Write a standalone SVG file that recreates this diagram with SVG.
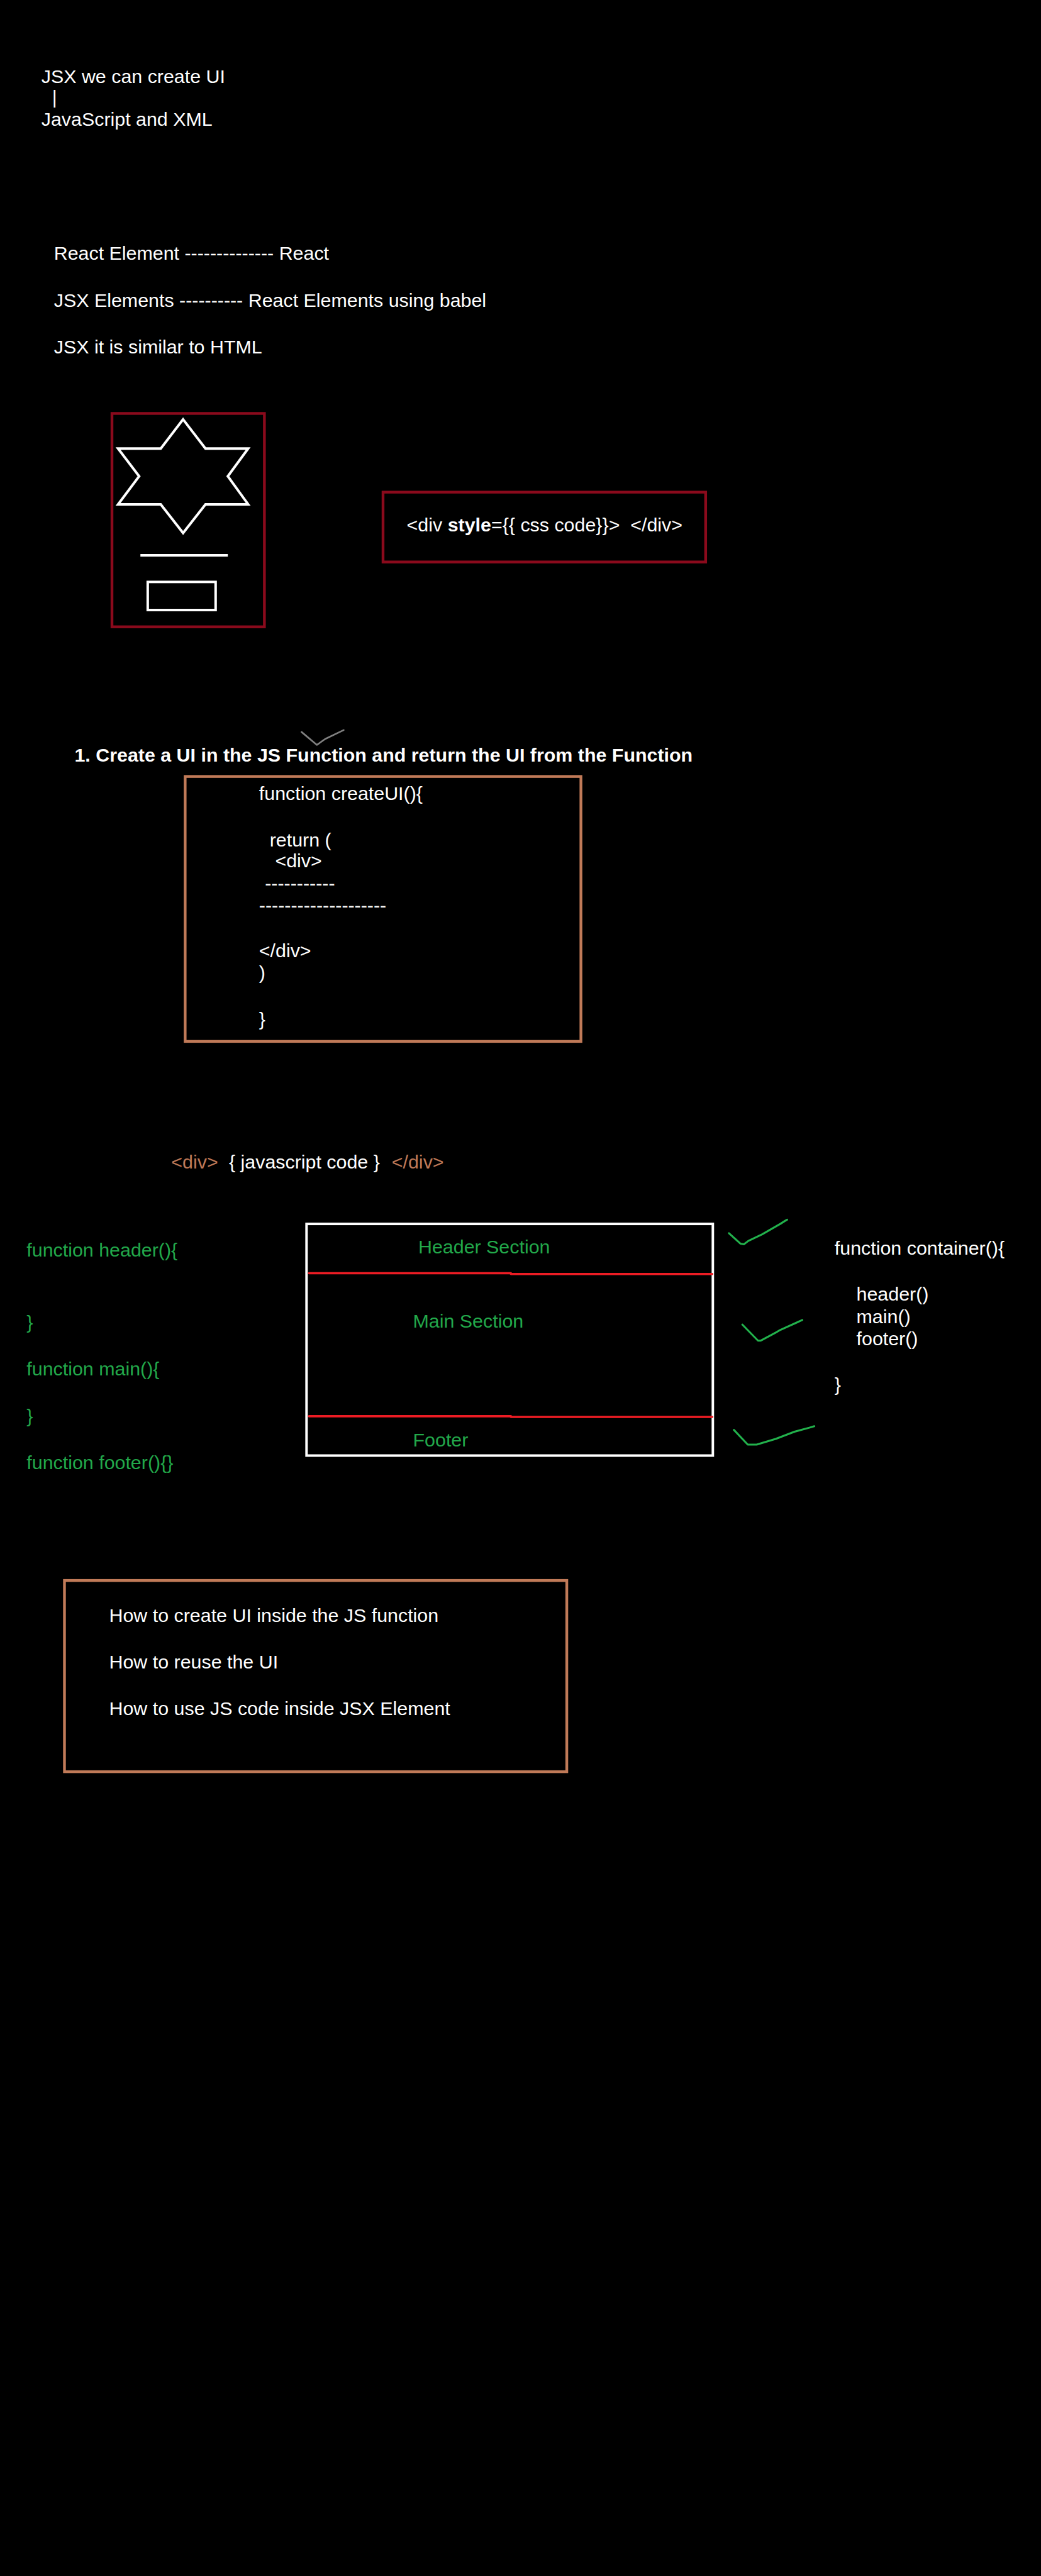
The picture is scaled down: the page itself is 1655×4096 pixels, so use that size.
<svg xmlns="http://www.w3.org/2000/svg" width="1655" height="4096" viewBox="0 0 1655 4096">
<style>
.t{font-family:"Liberation Sans",Arial,Helvetica,sans-serif;font-size:34.5px;fill:#ffffff;white-space:pre}
.b{font-weight:bold}
.g{fill:#22A84A}
.o{fill:#C07A58}
.dr{fill:none;stroke:#8A0A1C;stroke-width:5}
.or{fill:none;stroke:#C07A58;stroke-width:5}
.wh{fill:none;stroke:#ffffff;stroke-width:4.5}
.rd{fill:none;stroke:#ED1C24;stroke-width:4;stroke-linecap:round}
.ck{fill:none;stroke:#22B14C;stroke-width:3.5;stroke-linecap:round;stroke-linejoin:round}
</style>
<rect x="0" y="0" width="1655" height="4096" fill="#000000"/>
<g transform="scale(0.88126)">
  <g id="intro">
    <text class="t" x="74.6" y="150">JSX we can create UI</text>
    <text class="t" x="93.8" y="187">|</text>
    <text class="t" x="74.6" y="226.7">JavaScript and XML</text>
  </g>
  <g id="notes">
    <text class="t" x="97.3" y="469">React Element -------------- React</text>
    <text class="t" x="97.3" y="553.3">JSX Elements ---------- React Elements using babel</text>
    <text class="t" x="97.3" y="637.3">JSX it is similar to HTML</text>
  </g>
  <g id="ui-card">
    <rect class="dr" x="202" y="746" width="275" height="385"/>
    <path class="wh" d="M330.3,756.7 L370.7,809.3 L447.7,809.3 L411,859.3 L447.7,910 L370.7,910 L330.3,961.7 L290,910 L213,910 L251,859.3 L213,809.3 L290,809.3 Z" stroke-linejoin="miter"/>
    <line class="wh" x1="253.3" y1="1002" x2="411" y2="1002"/>
    <rect class="wh" x="266.5" y="1050" width="122.5" height="50.7"/>
  </g>
  <g id="style-box">
    <rect class="dr" x="691" y="888" width="582" height="126"/>
    <text class="t" x="733.7" y="958.3">&lt;div <tspan class="b">style</tspan>={{ css code}}&gt;  &lt;/div&gt;</text>
  </g>
  <g id="title">
    <path d="M544,1320.7 L571.7,1344 L586.7,1333.3 L620,1317.3" fill="none" stroke="#808080" stroke-width="3" stroke-linecap="round" stroke-linejoin="round"/>
    <text class="t b" x="134.4" y="1374.2">1. Create a UI in the JS Function and return the UI from the Function</text>
  </g>
  <g id="create-ui-box">
    <rect class="or" x="334" y="1401" width="714" height="478"/>
    <text class="t" x="467.3" y="1443">function createUI(){</text>
    <text class="t" x="486.5" y="1527.3">return (</text>
    <text class="t" x="496.4" y="1565">&lt;div&gt;</text>
    <text class="t" x="478" y="1606">-----------</text>
    <text class="t" x="467.3" y="1645">--------------------</text>
    <text class="t" x="467.3" y="1727">&lt;/div&gt;</text>
    <text class="t" x="467.3" y="1767">)</text>
    <text class="t" x="467.3" y="1851">}</text>
  </g>
  <g id="js-in-jsx">
    <text class="t o" x="309" y="2108">&lt;div&gt;</text>
    <text class="t" x="413" y="2108">{ javascript code }</text>
    <text class="t o" x="706.7" y="2108">&lt;/div&gt;</text>
  </g>
  <g id="functions-left">
    <text class="t g" x="48" y="2267">function header(){</text>
    <text class="t g" x="48" y="2398">}</text>
    <text class="t g" x="48" y="2482">function main(){</text>
    <text class="t g" x="48" y="2567">}</text>
    <text class="t g" x="48" y="2651">function footer(){}</text>
  </g>
  <g id="layout-box">
    <rect class="wh" x="553" y="2208.3" width="733" height="418"/>
    <path class="rd" d="M557.5,2297.3 L921.7,2297.3 M921.7,2298.8 L1285,2298.8"/>
    <path class="rd" d="M557.5,2555.3 L921.7,2555.3 M921.7,2556.6 L1285,2556.6"/>
    <text class="t g" x="754.6" y="2262">Header Section</text>
    <text class="t g" x="745" y="2395.7">Main Section</text>
    <text class="t g" x="745" y="2610.4">Footer</text>
  </g>
  <g id="checks">
    <path class="ck" d="M1315,2225 L1336,2244 L1342,2245 L1350,2239 L1375,2227 L1408,2208 L1416,2203 L1420,2200.7"/>
    <path class="ck" d="M1339.3,2390 L1367.5,2419 L1372,2419 L1400,2404 L1406,2400.5 L1447.3,2381.7"/>
    <path class="ck" d="M1324,2580 L1349,2606.5 L1365,2606.5 L1400,2596 L1433.3,2583.3 L1460,2576 L1469,2573.3"/>
  </g>
  <g id="container-fn">
    <text class="t" x="1505.6" y="2264">function container(){</text>
    <text class="t" x="1545" y="2347">header()</text>
    <text class="t" x="1545" y="2387">main()</text>
    <text class="t" x="1545" y="2427">footer()</text>
    <text class="t" x="1505.6" y="2510">}</text>
  </g>
  <g id="summary-box">
    <rect class="or" x="116.3" y="2851.7" width="906.2" height="345"/>
    <text class="t" x="196.9" y="2926">How to create UI inside the JS function</text>
    <text class="t" x="196.9" y="3010.7">How to reuse the UI</text>
    <text class="t" x="196.9" y="3094">How to use JS code inside JSX Element</text>
  </g>
  <g id="connectors"/>
</g>
</svg>
